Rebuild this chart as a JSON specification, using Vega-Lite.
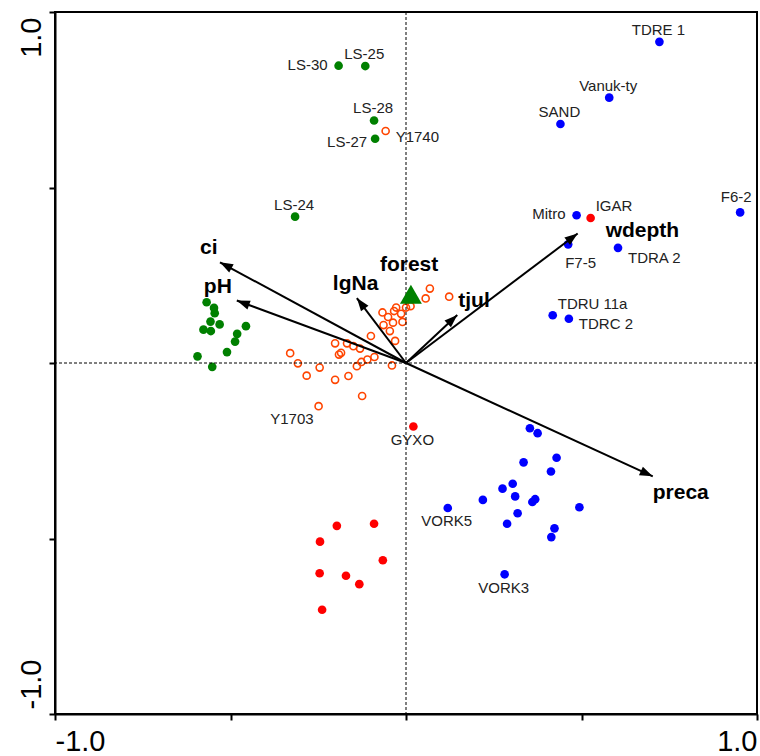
{
  "$schema": "https://vega.github.io/schema/vega-lite/v6.json",
  "width": 702,
  "height": 702,
  "autosize": {"type": "none"},
  "padding": {"left": 55, "top": 12, "right": 3, "bottom": 42},
  "background": "white",
  "config": {
    "view": {"stroke": "black", "strokeWidth": 2},
    "font": "Liberation Sans"
  },
  "datasets": {
    "sites": [
      {"g": "B", "x": -0.568, "y": 0.173},
      {"g": "B", "x": -0.547, "y": 0.157},
      {"g": "B", "x": -0.545, "y": 0.142},
      {"g": "B", "x": -0.557, "y": 0.118},
      {"g": "B", "x": -0.531, "y": 0.110},
      {"g": "B", "x": -0.577, "y": 0.095},
      {"g": "B", "x": -0.556, "y": 0.091},
      {"g": "B", "x": -0.456, "y": 0.105},
      {"g": "B", "x": -0.481, "y": 0.083},
      {"g": "B", "x": -0.487, "y": 0.061},
      {"g": "B", "x": -0.510, "y": 0.031},
      {"g": "B", "x": -0.594, "y": 0.019},
      {"g": "B", "x": -0.552, "y": -0.011},
      {"g": "B", "x": -0.192, "y": 0.847, "label": "LS-30"},
      {"g": "B", "x": -0.116, "y": 0.846, "label": "LS-25"},
      {"g": "B", "x": -0.091, "y": 0.691, "label": "LS-28"},
      {"g": "B", "x": -0.088, "y": 0.639, "label": "LS-27"},
      {"g": "B", "x": -0.316, "y": 0.417, "label": "LS-24"},
      {"g": "A", "x": 0.353, "y": -0.186},
      {"g": "A", "x": 0.375, "y": -0.200},
      {"g": "A", "x": 0.429, "y": -0.270},
      {"g": "A", "x": 0.335, "y": -0.283},
      {"g": "A", "x": 0.413, "y": -0.309},
      {"g": "A", "x": 0.304, "y": -0.344},
      {"g": "A", "x": 0.275, "y": -0.358},
      {"g": "A", "x": 0.311, "y": -0.380},
      {"g": "A", "x": 0.219, "y": -0.390},
      {"g": "A", "x": 0.368, "y": -0.388},
      {"g": "A", "x": 0.360, "y": -0.396},
      {"g": "A", "x": 0.494, "y": -0.411},
      {"g": "A", "x": 0.318, "y": -0.428},
      {"g": "A", "x": 0.288, "y": -0.458},
      {"g": "A", "x": 0.423, "y": -0.471},
      {"g": "A", "x": 0.414, "y": -0.496},
      {"g": "A", "x": 0.119, "y": -0.413, "label": "VORK5"},
      {"g": "A", "x": 0.281, "y": -0.602, "label": "VORK3"},
      {"g": "A", "x": 0.722, "y": 0.915, "label": "TDRE 1"},
      {"g": "A", "x": 0.579, "y": 0.756, "label": "Vanuk-ty"},
      {"g": "A", "x": 0.440, "y": 0.681, "label": "SAND"},
      {"g": "A", "x": 0.486, "y": 0.421, "label": "Mitro"},
      {"g": "A", "x": 0.952, "y": 0.429, "label": "F6-2"},
      {"g": "A", "x": 0.462, "y": 0.338, "label": "F7-5"},
      {"g": "A", "x": 0.604, "y": 0.328, "label": "TDRA 2"},
      {"g": "A", "x": 0.418, "y": 0.136, "label": "TDRU 11a"},
      {"g": "A", "x": 0.464, "y": 0.126, "label": "TDRC 2"},
      {"g": "C", "x": -0.197, "y": -0.464},
      {"g": "C", "x": -0.091, "y": -0.458},
      {"g": "C", "x": -0.245, "y": -0.509},
      {"g": "C", "x": -0.066, "y": -0.562},
      {"g": "C", "x": -0.246, "y": -0.599},
      {"g": "C", "x": -0.171, "y": -0.606},
      {"g": "C", "x": -0.133, "y": -0.630},
      {"g": "C", "x": -0.239, "y": -0.703},
      {"g": "C", "x": 0.021, "y": -0.181, "label": "GYXO"},
      {"g": "C", "x": 0.526, "y": 0.413, "label": "IGAR"},
      {"g": "D", "x": 0.068, "y": 0.212},
      {"g": "D", "x": 0.056, "y": 0.184},
      {"g": "D", "x": -0.028, "y": 0.158},
      {"g": "D", "x": 0.000, "y": 0.158},
      {"g": "D", "x": 0.013, "y": 0.162},
      {"g": "D", "x": -0.067, "y": 0.144},
      {"g": "D", "x": -0.034, "y": 0.148},
      {"g": "D", "x": -0.014, "y": 0.140},
      {"g": "D", "x": -0.051, "y": 0.131},
      {"g": "D", "x": -0.010, "y": 0.117},
      {"g": "D", "x": -0.037, "y": 0.115},
      {"g": "D", "x": -0.064, "y": 0.108},
      {"g": "D", "x": -0.046, "y": 0.091},
      {"g": "D", "x": -0.100, "y": 0.077},
      {"g": "D", "x": -0.031, "y": 0.063},
      {"g": "D", "x": -0.202, "y": 0.056},
      {"g": "D", "x": -0.168, "y": 0.056},
      {"g": "D", "x": -0.150, "y": 0.048},
      {"g": "D", "x": -0.131, "y": 0.041},
      {"g": "D", "x": -0.185, "y": 0.029},
      {"g": "D", "x": -0.191, "y": 0.024},
      {"g": "D", "x": -0.330, "y": 0.028},
      {"g": "D", "x": -0.308, "y": -0.001},
      {"g": "D", "x": -0.246, "y": -0.013},
      {"g": "D", "x": -0.283, "y": -0.036},
      {"g": "D", "x": -0.202, "y": -0.048},
      {"g": "D", "x": -0.164, "y": -0.037},
      {"g": "D", "x": -0.140, "y": -0.009},
      {"g": "D", "x": -0.127, "y": 0.003},
      {"g": "D", "x": -0.110, "y": 0.010},
      {"g": "D", "x": -0.090, "y": 0.017},
      {"g": "D", "x": -0.040, "y": -0.007},
      {"g": "D", "x": -0.125, "y": -0.094},
      {"g": "D", "x": 0.123, "y": 0.189},
      {"g": "D", "x": -0.249, "y": -0.123, "label": "Y1703"},
      {"g": "D", "x": -0.058, "y": 0.661, "label": "Y1740"}
    ],
    "env": [
      {"name": "ci", "x": -0.530, "y": 0.287},
      {"name": "pH", "x": -0.482, "y": 0.178},
      {"name": "lgNa", "x": -0.140, "y": 0.185},
      {"name": "tjul", "x": 0.146, "y": 0.137},
      {"name": "wdepth", "x": 0.489, "y": 0.369},
      {"name": "preca", "x": 0.703, "y": -0.323}
    ],
    "factor": [
      {"name": "forest", "x": 0.014, "y": 0.196}
    ]
  },
  "layer": [
    {
      "data": {"name": "sites"},
      "transform": [{"filter": "datum.g === 'D'"}],
      "mark": {"type": "point", "shape": "circle", "filled": false, "size": 50, "strokeWidth": 1.6, "opacity": 1, "color": "#FF4500"},
      "encoding": {
        "x": {"field": "x", "type": "quantitative", "title": null, "scale": {"domain": [-1, 1], "nice": false, "zero": false},
          "axis": {
            "title": null, "values": [-1, -0.5, 0, 0.5, 1], "grid": false,
            "labelExpr": "datum.value == -1 ? '-1.0' : (datum.value == 1 ? '1.0' : '')",
            "labelFontSize": 29, "labelFont": "Liberation Sans", "labelColor": "black",
            "labelAlign": {"condition": {"test": "datum.value < 0", "value": "left"}, "value": "right"},
            "labelBaseline": "alphabetic", "labelPadding": 30, "labelOverlap": false, "labelBound": false, "labelFlush": false,
            "tickSize": 6, "tickWidth": 2, "tickColor": "black", "domainColor": "black", "domainWidth": 2
          }},
        "y": {"field": "y", "type": "quantitative", "title": null, "scale": {"domain": [-1, 1], "nice": false, "zero": false},
          "axis": {
            "title": null, "values": [-1, -0.5, 0, 0.5, 1], "grid": false,
            "labelExpr": "datum.value == -1 ? '-1.0' : (datum.value == 1 ? '1.0' : '')",
            "labelFontSize": 29, "labelFont": "Liberation Sans", "labelColor": "black", "labelAngle": 270,
            "labelAlign": {"condition": {"test": "datum.value < 0", "value": "left"}, "value": "right"},
            "labelOffset": {"condition": {"test": "datum.value < 0", "value": -5}, "value": 5},
            "labelBaseline": "alphabetic", "labelPadding": 9, "labelOverlap": false, "labelBound": false, "labelFlush": false,
            "tickSize": 6, "tickWidth": 2, "tickColor": "black", "domainColor": "black", "domainWidth": 2
          }}
      }
    },
    {
      "data": {"name": "sites"},
      "transform": [{"filter": "datum.g !== 'D'"}],
      "mark": {"type": "point", "shape": "circle", "filled": true, "size": 75, "strokeWidth": 0, "opacity": 1},
      "encoding": {
        "x": {"field": "x", "type": "quantitative", "title": null},
        "y": {"field": "y", "type": "quantitative", "title": null},
        "color": {"field": "g", "type": "nominal", "scale": {"domain": ["A", "B", "C"], "range": ["#0000FF", "#008000", "#FF0000"]}, "legend": null}
      }
    },
    {
      "data": {"values": [{}]},
      "mark": {"type": "rule", "color": "black", "strokeWidth": 1, "strokeDash": [3, 2]},
      "encoding": {"x": {"datum": 0, "type": "quantitative", "title": null}}
    },
    {
      "data": {"values": [{}]},
      "mark": {"type": "rule", "color": "black", "strokeWidth": 1, "strokeDash": [3, 2]},
      "encoding": {"y": {"datum": 0, "type": "quantitative", "title": null}}
    },
    {
      "data": {"name": "env"},
      "mark": {"type": "rule", "color": "black", "strokeWidth": 2},
      "encoding": {
        "x": {"field": "x", "type": "quantitative", "title": null},
        "y": {"field": "y", "type": "quantitative", "title": null},
        "x2": {"datum": 0},
        "y2": {"datum": 0}
      }
    },
    {
      "data": {"name": "env"},
      "mark": {"type": "point", "shape": "M0,0L-0.36,1L0.36,1Z", "filled": true, "size": 680, "strokeWidth": 0, "opacity": 1, "color": "black",
        "angle": {"expr": "atan2(datum.x, datum.y) * 180 / PI"}},
      "encoding": {
        "x": {"field": "x", "type": "quantitative", "title": null},
        "y": {"field": "y", "type": "quantitative", "title": null}
      }
    },
    {
      "data": {"name": "factor"},
      "mark": {"type": "point", "shape": "triangle-up", "filled": true, "size": 480, "strokeWidth": 0, "opacity": 1, "color": "#008000"},
      "encoding": {
        "x": {"field": "x", "type": "quantitative", "title": null},
        "y": {"field": "y", "type": "quantitative", "title": null}
      }
    },
    {
      "data": {"name": "factor"},
      "mark": {"type": "text", "font": "Liberation Sans", "fontSize": 21, "fontWeight": "bold", "color": "black", "align": "left", "baseline": "alphabetic", "dx": -31, "dy": -23.5},
      "encoding": {"x": {"field": "x", "type": "quantitative", "title": null}, "y": {"field": "y", "type": "quantitative", "title": null}, "text": {"field": "name"}}
    },
    {
      "data": {"name": "env"},
      "transform": [{"filter": "datum.name === 'ci'"}],
      "mark": {"type": "text", "font": "Liberation Sans", "fontSize": 21, "fontWeight": "bold", "color": "black", "align": "left", "baseline": "alphabetic", "dx": -20, "dy": -8},
      "encoding": {"x": {"field": "x", "type": "quantitative", "title": null}, "y": {"field": "y", "type": "quantitative", "title": null}, "text": {"field": "name"}}
    },
    {
      "data": {"name": "env"},
      "transform": [{"filter": "datum.name === 'pH'"}],
      "mark": {"type": "text", "font": "Liberation Sans", "fontSize": 21, "fontWeight": "bold", "color": "black", "align": "left", "baseline": "alphabetic", "dx": -33, "dy": -8},
      "encoding": {"x": {"field": "x", "type": "quantitative", "title": null}, "y": {"field": "y", "type": "quantitative", "title": null}, "text": {"field": "name"}}
    },
    {
      "data": {"name": "env"},
      "transform": [{"filter": "datum.name === 'lgNa'"}],
      "mark": {"type": "text", "font": "Liberation Sans", "fontSize": 21, "fontWeight": "bold", "color": "black", "align": "left", "baseline": "alphabetic", "dx": -24, "dy": -8},
      "encoding": {"x": {"field": "x", "type": "quantitative", "title": null}, "y": {"field": "y", "type": "quantitative", "title": null}, "text": {"field": "name"}}
    },
    {
      "data": {"name": "env"},
      "transform": [{"filter": "datum.name === 'tjul'"}],
      "mark": {"type": "text", "font": "Liberation Sans", "fontSize": 21, "fontWeight": "bold", "color": "black", "align": "left", "baseline": "alphabetic", "dx": 1, "dy": -8},
      "encoding": {"x": {"field": "x", "type": "quantitative", "title": null}, "y": {"field": "y", "type": "quantitative", "title": null}, "text": {"field": "name"}}
    },
    {
      "data": {"name": "env"},
      "transform": [{"filter": "datum.name === 'wdepth'"}],
      "mark": {"type": "text", "font": "Liberation Sans", "fontSize": 21, "fontWeight": "bold", "color": "black", "align": "left", "baseline": "alphabetic", "dx": 28, "dy": 3.5},
      "encoding": {"x": {"field": "x", "type": "quantitative", "title": null}, "y": {"field": "y", "type": "quantitative", "title": null}, "text": {"field": "name"}}
    },
    {
      "data": {"name": "env"},
      "transform": [{"filter": "datum.name === 'preca'"}],
      "mark": {"type": "text", "font": "Liberation Sans", "fontSize": 21, "fontWeight": "bold", "color": "black", "align": "left", "baseline": "alphabetic", "dx": 0, "dy": 23},
      "encoding": {"x": {"field": "x", "type": "quantitative", "title": null}, "y": {"field": "y", "type": "quantitative", "title": null}, "text": {"field": "name"}}
    },
    {
      "data": {"name": "sites"},
      "transform": [{"filter": {"field": "label", "oneOf": ["LS-25", "LS-28", "LS-24", "TDRE 1", "Vanuk-ty", "SAND"]}}],
      "mark": {"type": "text", "font": "Liberation Sans", "fontSize": 15, "color": "#222222", "align": "center", "baseline": "alphabetic", "dx": -1, "dy": -7},
      "encoding": {"x": {"field": "x", "type": "quantitative", "title": null}, "y": {"field": "y", "type": "quantitative", "title": null}, "text": {"field": "label"}}
    },
    {
      "data": {"name": "sites"},
      "transform": [{"filter": {"field": "label", "oneOf": ["F6-2"]}}],
      "mark": {"type": "text", "font": "Liberation Sans", "fontSize": 15, "color": "#222222", "align": "center", "baseline": "alphabetic", "dx": -4, "dy": -10},
      "encoding": {"x": {"field": "x", "type": "quantitative", "title": null}, "y": {"field": "y", "type": "quantitative", "title": null}, "text": {"field": "label"}}
    },
    {
      "data": {"name": "sites"},
      "transform": [{"filter": {"field": "label", "oneOf": ["GYXO", "VORK5", "VORK3"]}}],
      "mark": {"type": "text", "font": "Liberation Sans", "fontSize": 15, "color": "#222222", "align": "center", "baseline": "alphabetic", "dx": -1, "dy": 18.5},
      "encoding": {"x": {"field": "x", "type": "quantitative", "title": null}, "y": {"field": "y", "type": "quantitative", "title": null}, "text": {"field": "label"}}
    },
    {
      "data": {"name": "sites"},
      "transform": [{"filter": {"field": "label", "oneOf": ["LS-30", "Mitro"]}}],
      "mark": {"type": "text", "font": "Liberation Sans", "fontSize": 15, "color": "#222222", "align": "right", "baseline": "alphabetic", "dx": -11, "dy": 4},
      "encoding": {"x": {"field": "x", "type": "quantitative", "title": null}, "y": {"field": "y", "type": "quantitative", "title": null}, "text": {"field": "label"}}
    },
    {
      "data": {"name": "sites"},
      "transform": [{"filter": {"field": "label", "oneOf": ["LS-27"]}}],
      "mark": {"type": "text", "font": "Liberation Sans", "fontSize": 15, "color": "#222222", "align": "right", "baseline": "alphabetic", "dx": -8, "dy": 8.6},
      "encoding": {"x": {"field": "x", "type": "quantitative", "title": null}, "y": {"field": "y", "type": "quantitative", "title": null}, "text": {"field": "label"}}
    },
    {
      "data": {"name": "sites"},
      "transform": [{"filter": {"field": "label", "oneOf": ["Y1703"]}}],
      "mark": {"type": "text", "font": "Liberation Sans", "fontSize": 15, "color": "#222222", "align": "right", "baseline": "alphabetic", "dx": -5, "dy": 18.3},
      "encoding": {"x": {"field": "x", "type": "quantitative", "title": null}, "y": {"field": "y", "type": "quantitative", "title": null}, "text": {"field": "label"}}
    },
    {
      "data": {"name": "sites"},
      "transform": [{"filter": {"field": "label", "oneOf": ["Y1740", "TDRC 2"]}}],
      "mark": {"type": "text", "font": "Liberation Sans", "fontSize": 15, "color": "#222222", "align": "left", "baseline": "alphabetic", "dx": 10, "dy": 10.7},
      "encoding": {"x": {"field": "x", "type": "quantitative", "title": null}, "y": {"field": "y", "type": "quantitative", "title": null}, "text": {"field": "label"}}
    },
    {
      "data": {"name": "sites"},
      "transform": [{"filter": {"field": "label", "oneOf": ["TDRA 2"]}}],
      "mark": {"type": "text", "font": "Liberation Sans", "fontSize": 15, "color": "#222222", "align": "left", "baseline": "alphabetic", "dx": 10, "dy": 14.7},
      "encoding": {"x": {"field": "x", "type": "quantitative", "title": null}, "y": {"field": "y", "type": "quantitative", "title": null}, "text": {"field": "label"}}
    },
    {
      "data": {"name": "sites"},
      "transform": [{"filter": {"field": "label", "oneOf": ["IGAR", "TDRU 11a"]}}],
      "mark": {"type": "text", "font": "Liberation Sans", "fontSize": 15, "color": "#222222", "align": "left", "baseline": "alphabetic", "dx": 5, "dy": -6.6},
      "encoding": {"x": {"field": "x", "type": "quantitative", "title": null}, "y": {"field": "y", "type": "quantitative", "title": null}, "text": {"field": "label"}}
    },
    {
      "data": {"name": "sites"},
      "transform": [{"filter": {"field": "label", "oneOf": ["F7-5"]}}],
      "mark": {"type": "text", "font": "Liberation Sans", "fontSize": 15, "color": "#222222", "align": "left", "baseline": "alphabetic", "dx": -3, "dy": 23.4},
      "encoding": {"x": {"field": "x", "type": "quantitative", "title": null}, "y": {"field": "y", "type": "quantitative", "title": null}, "text": {"field": "label"}}
    }
  ]
}
